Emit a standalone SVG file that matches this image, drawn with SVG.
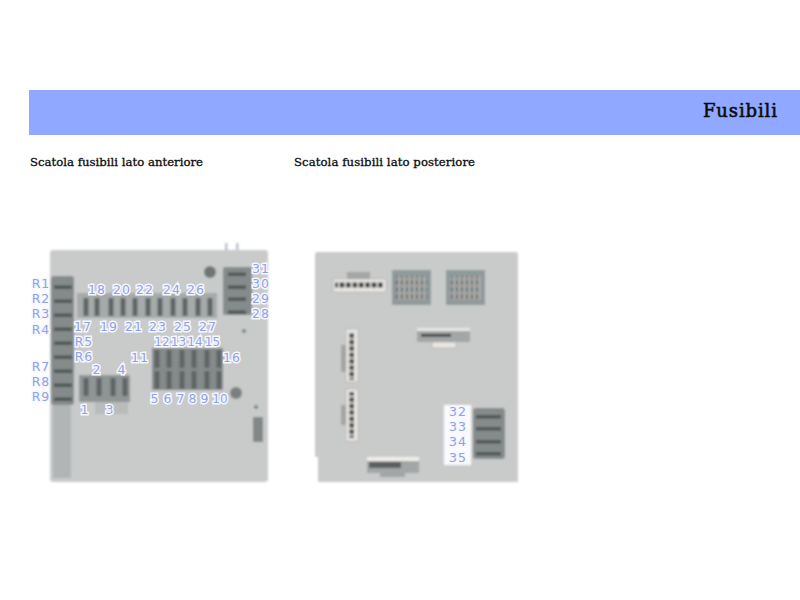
<svg xmlns="http://www.w3.org/2000/svg" xmlns:xlink="http://www.w3.org/1999/xlink" width="800" height="600" viewBox="0 0 800 600">
<defs>
<filter id="soft" x="-5%" y="-5%" width="110%" height="110%"><feGaussianBlur stdDeviation="0.85"/></filter>
<rect id="vbar" x="-2.5" y="0" width="5" height="18" fill="#5f6565"/>
<rect id="hbar" x="0" y="-1.5" width="18" height="3.5" fill="#4f5656"/>
<pattern id="grid" width="5" height="7" patternUnits="userSpaceOnUse"><rect width="5" height="7" fill="#a3abab"/><rect x="1" width="1.6" height="5" fill="#5a615f"/><rect y="5" width="5" height="1" fill="#b59c92"/></pattern>
<pattern id="pins" width="6.4" height="6" patternUnits="userSpaceOnUse"><rect x=".6" y=".5" width="4.4" height="5" fill="#2c3336"/></pattern>
<pattern id="vpins" width="5" height="6.4" patternUnits="userSpaceOnUse"><rect x=".4" y=".6" width="4.4" height="4.6" fill="#2c3336"/></pattern>
</defs>
<style>
.t{font-family:"DejaVu Serif",serif;fill:#0a0a0a;stroke:#0a0a0a;stroke-width:.3px}
.h{stroke-width:.55px}
.l{font-family:"DejaVu Sans",sans-serif;font-size:12.5px;fill:#8ea2e6;text-anchor:middle;letter-spacing:1px;paint-order:stroke;stroke:#f6f7ff;stroke-width:3px}
.n{letter-spacing:0;font-size:12px}
.panel{fill:#c9caca}
.bg{fill:#a6aaaa}
.dk{fill:#858b8b}
.conn{fill:#e9e6e2;stroke:#a8a8a6;stroke-width:.6}
.tab{fill:#a3a6a6}
</style>
<rect width="800" height="600" fill="#fff"/>
<rect id="banner" x="29" y="90" width="771" height="45" fill="#90a8ff"/>
<text class="t h" x="703" y="117" font-size="18" textLength="74" lengthAdjust="spacing">Fusibili</text>
<text class="t" x="30" y="166" font-size="11.7" textLength="173" lengthAdjust="spacing">Scatola fusibili lato anteriore</text>
<text class="t" x="294" y="166" font-size="11.7" textLength="181" lengthAdjust="spacing">Scatola fusibili lato posteriore</text>

<g id="front" filter="url(#soft)">
<rect x="225" y="243" width="2.5" height="9" fill="#b9c4cc"/><rect x="236" y="243" width="2.5" height="9" fill="#b9c4cc"/>
<rect class="panel" x="50" y="250" width="218" height="232" rx="3"/>
<rect fill="#b1b5b5" x="53" y="405" width="18" height="73"/>
<rect class="dk" x="51" y="276" width="23" height="129" rx="3"/>
<g><use xlink:href="#hbar" x="54" y="287"/><use xlink:href="#hbar" x="54" y="301"/><use xlink:href="#hbar" x="54" y="315"/><use xlink:href="#hbar" x="54" y="329"/><use xlink:href="#hbar" x="54" y="343"/><use xlink:href="#hbar" x="54" y="357"/><use xlink:href="#hbar" x="54" y="371"/><use xlink:href="#hbar" x="54" y="385"/><use xlink:href="#hbar" x="54" y="399"/></g>
<rect class="bg" x="77" y="293" width="140" height="25"/>
<g><use xlink:href="#vbar" x="86" y="298"/><use xlink:href="#vbar" x="97" y="298"/><use xlink:href="#vbar" x="111" y="298"/><use xlink:href="#vbar" x="123" y="298"/><use xlink:href="#vbar" x="135" y="298"/><use xlink:href="#vbar" x="148" y="298"/><use xlink:href="#vbar" x="160" y="298"/><use xlink:href="#vbar" x="173" y="298"/><use xlink:href="#vbar" x="185" y="298"/><use xlink:href="#vbar" x="198" y="298"/><use xlink:href="#vbar" x="210" y="298"/></g>
<rect class="dk" x="223" y="267" width="29" height="48" rx="2"/>
<g><use xlink:href="#hbar" x="228" y="274"/><use xlink:href="#hbar" x="228" y="287"/><use xlink:href="#hbar" x="228" y="299"/><use xlink:href="#hbar" x="228" y="312"/></g>
<circle cx="210" cy="272" r="6" fill="#6f7676"/><circle cx="236" cy="393" r="6" fill="#7a8080"/>
<circle cx="244" cy="331" r="2" fill="#64888c"/><circle cx="256" cy="407" r="2" fill="#64888c"/>
<rect x="253" y="417" width="10" height="25" fill="#828888"/>
<rect class="dk" x="152" y="348" width="71" height="42"/>
<g><use xlink:href="#vbar" x="157" y="350"/><use xlink:href="#vbar" x="169" y="350"/><use xlink:href="#vbar" x="182" y="350"/><use xlink:href="#vbar" x="194" y="350"/><use xlink:href="#vbar" x="207" y="350"/><use xlink:href="#vbar" x="219" y="350"/><use xlink:href="#vbar" x="157" y="371"/><use xlink:href="#vbar" x="169" y="371"/><use xlink:href="#vbar" x="182" y="371"/><use xlink:href="#vbar" x="194" y="371"/><use xlink:href="#vbar" x="207" y="371"/><use xlink:href="#vbar" x="219" y="371"/></g>
<rect fill="#b9bcbc" x="95" y="402" width="33" height="12"/>
<rect fill="#8f9494" x="79" y="375" width="51" height="27"/>
<g><use xlink:href="#vbar" x="86" y="378"/><use xlink:href="#vbar" x="99" y="378"/><use xlink:href="#vbar" x="113" y="378"/><use xlink:href="#vbar" x="125" y="378"/></g>
</g>

<g id="rear" filter="url(#soft)">
<path class="panel" d="M317 252H516Q518 252 518 255V482H318V457H315V255Q315 252 317 252Z"/>
<rect class="tab" x="347" y="272" width="23" height="10"/>
<rect class="conn" x="333" y="279" width="53" height="13"/><rect x="335" y="282" width="48" height="6" fill="url(#pins)"/>
<rect x="392" y="270" width="39" height="35" fill="#8f9a9c"/><rect x="396" y="276" width="31" height="24" fill="url(#grid)"/>
<rect x="446" y="270" width="39" height="35" fill="#8f9a9c"/><rect x="450" y="276" width="31" height="24" fill="url(#grid)"/>
<rect class="tab" x="341" y="345" width="7" height="27"/>
<rect class="conn" x="346" y="329" width="12" height="53"/><rect x="349" y="332" width="5" height="48" fill="url(#vpins)"/>
<rect class="tab" x="341" y="405" width="7" height="20"/>
<rect class="conn" x="346" y="389" width="12" height="52"/><rect x="349" y="392" width="5" height="46" fill="url(#vpins)"/>
<rect class="conn" x="432" y="342" width="24" height="6"/>
<rect fill="#e9e6e2" x="417" y="328" width="53" height="3"/><rect class="tab" x="417" y="331" width="53" height="11"/>
<rect x="421" y="334" width="30" height="2.5" fill="#2f3335"/>
<rect class="tab" x="380" y="470" width="25" height="7"/>
<rect fill="#f0eeea" x="367" y="457" width="52" height="4"/><rect class="tab" x="367" y="461" width="52" height="12"/>
<rect x="369" y="462" width="32" height="6" fill="#5b5f60"/>
<rect class="dk" x="473" y="408" width="32" height="51" rx="3"/>
<g><rect x="476" y="415" width="25" height="3.5" fill="#4f5656"/><rect x="476" y="427" width="25" height="3.5" fill="#4f5656"/><rect x="476" y="440" width="25" height="3.5" fill="#4f5656"/><rect x="476" y="452" width="25" height="3.5" fill="#4f5656"/></g>
<rect x="444" y="405" width="27" height="60" fill="#fafbff"/>
</g>

<g id="labels">
<text class="l" x="41" y="288">R1</text><text class="l" x="41" y="303">R2</text><text class="l" x="41" y="318">R3</text><text class="l" x="41" y="334">R4</text>
<text class="l" x="84" y="346">R5</text><text class="l" x="84" y="361">R6</text>
<text class="l" x="41" y="371">R7</text><text class="l" x="41" y="386">R8</text><text class="l" x="41" y="401">R9</text>
<text class="l" x="97" y="294">18</text><text class="l" x="122" y="294">20</text><text class="l" x="145" y="294">22</text><text class="l" x="172" y="294">24</text><text class="l" x="196" y="294">26</text>
<text class="l" x="83" y="331">17</text><text class="l" x="109" y="331">19</text><text class="l" x="134" y="331">21</text><text class="l" x="158" y="331">23</text><text class="l" x="183" y="331">25</text><text class="l" x="208" y="331">27</text>
<text class="l n" x="162" y="346">12</text><text class="l n" x="178.500" y="346">13</text><text class="l n" x="195" y="346">14</text><text class="l n" x="212.500" y="346">15</text>
<text class="l" x="140" y="362">11</text><text class="l" x="232" y="362">16</text>
<text class="l" x="97" y="374">2</text><text class="l" x="122" y="374">4</text><text class="l" x="85" y="414">1</text><text class="l" x="110" y="414">3</text>
<text class="l" x="155" y="403">5</text><text class="l" x="168" y="403">6</text><text class="l" x="181" y="403">7</text><text class="l" x="193" y="403">8</text><text class="l" x="205" y="403">9</text><text class="l n" x="220" y="403">10</text>
<text class="l" x="261" y="273">31</text><text class="l" x="261" y="288">30</text><text class="l" x="261" y="303">29</text><text class="l" x="261" y="318">28</text>
<text class="l" x="458" y="416">32</text><text class="l" x="458" y="431">33</text><text class="l" x="458" y="446">34</text><text class="l" x="458" y="462">35</text>
</g>
</svg>
